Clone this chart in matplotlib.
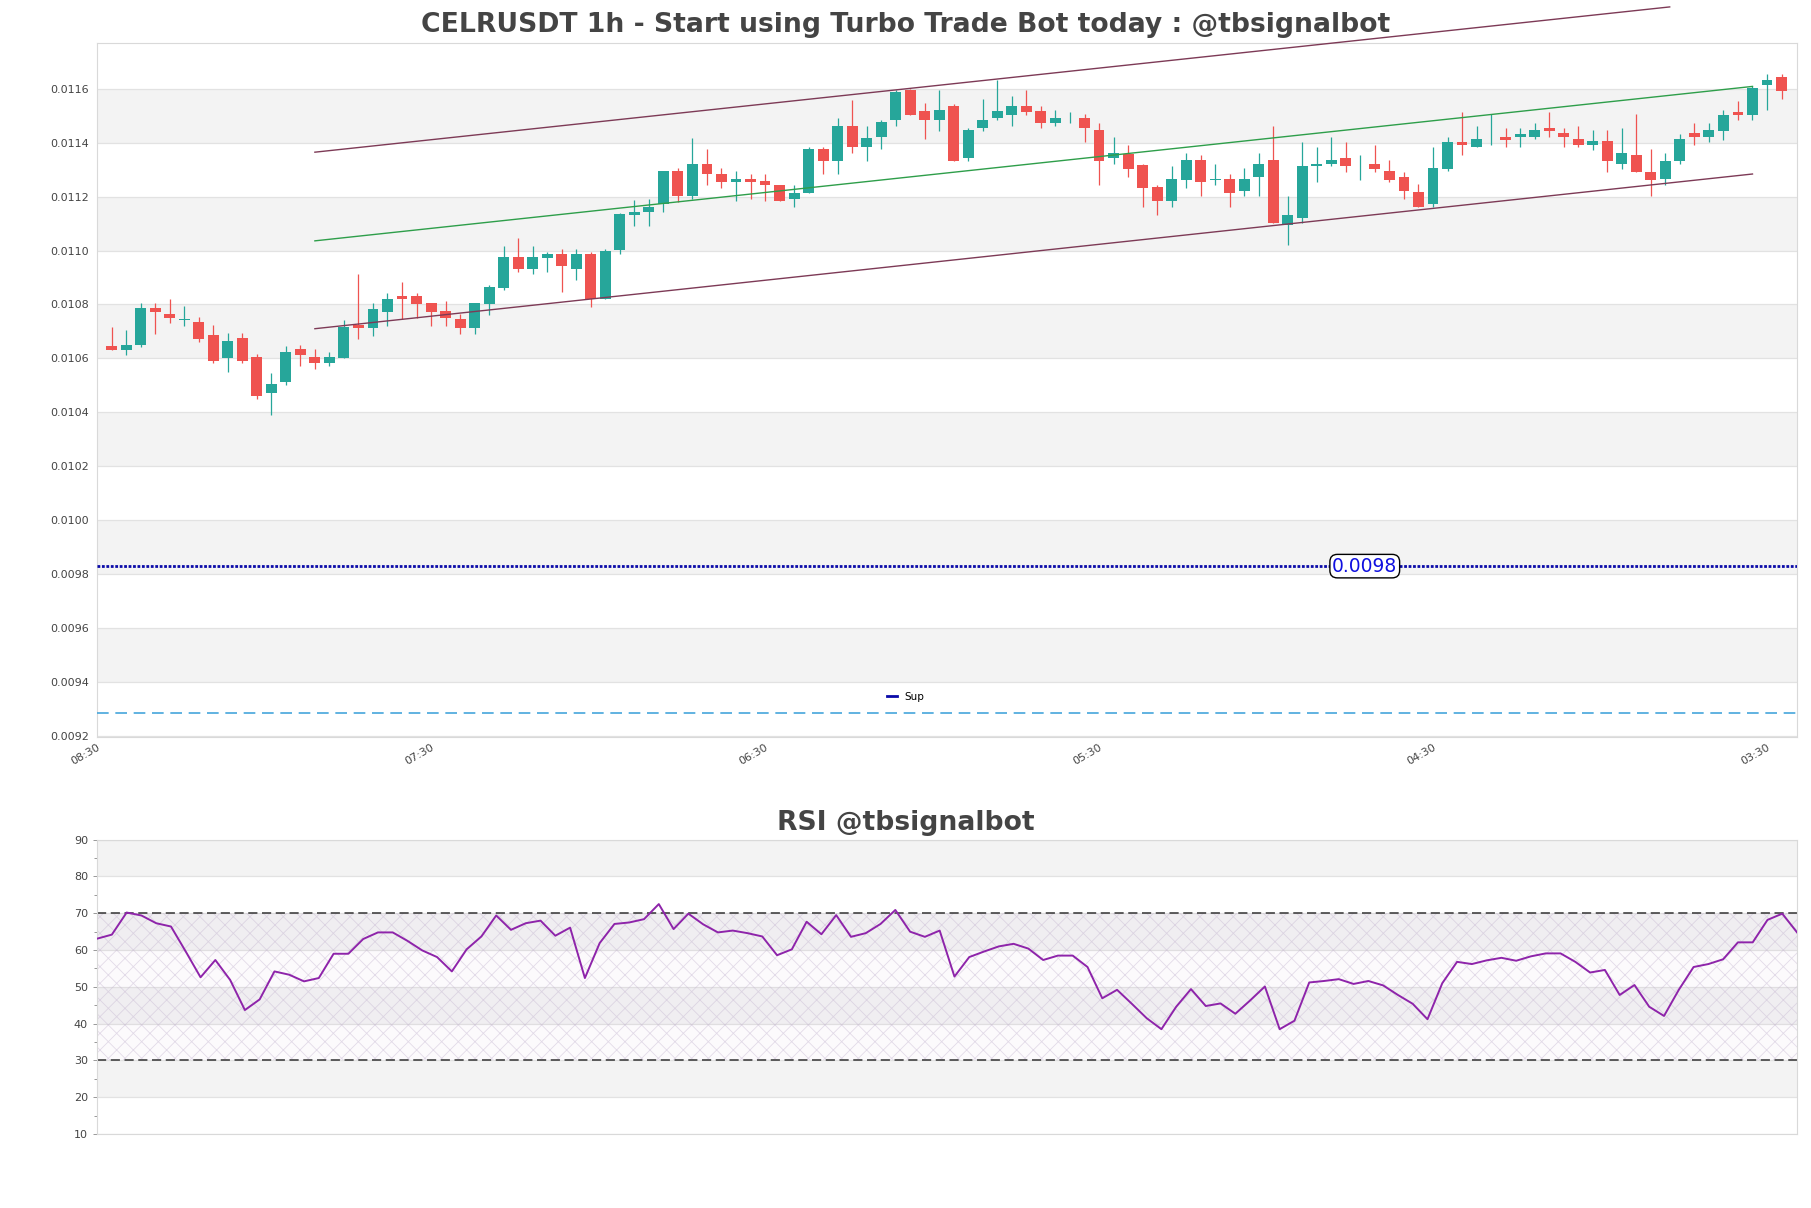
import matplotlib
matplotlib.use("Agg")
import matplotlib.pyplot as plt
from matplotlib.lines import Line2D
import numpy as np

# ---------------- data ----------------
opens = [0.010645, 0.010631, 0.010649, 0.010785, 0.010763, 0.010744, 0.010734, 0.010686, 0.010602, 0.010674,
         0.010604, 0.010473, 0.010513, 0.010634, 0.010604, 0.010583, 0.010602, 0.010722, 0.010713, 0.010772,
         0.010833, 0.010833, 0.010804, 0.010774, 0.010745, 0.010713, 0.010803, 0.010861, 0.010977, 0.010932,
         0.010974, 0.010988, 0.010932, 0.010988, 0.010821, 0.011001, 0.011132, 0.011143, 0.011174, 0.011294,
         0.011201, 0.011322, 0.011285, 0.011254, 0.011264, 0.011257, 0.011244, 0.011190, 0.011214, 0.011375,
         0.011332, 0.011464, 0.011384, 0.011421, 0.011483, 0.011595, 0.011516, 0.011484, 0.011535, 0.011343,
         0.011454, 0.011491, 0.011502, 0.011535, 0.011516, 0.011473, 0.011491, 0.011493, 0.011446, 0.011343,
         0.011357, 0.011316, 0.011235, 0.011184, 0.011262, 0.011335, 0.011262, 0.011264, 0.011221, 0.011273,
         0.011335, 0.011094, 0.011121, 0.011314, 0.011320, 0.011344, 0.011316, 0.011322, 0.011294, 0.011274,
         0.011216, 0.011172, 0.011304, 0.011404, 0.011385, 0.011420, 0.011422, 0.011421, 0.011421, 0.011456,
         0.011435, 0.011415, 0.011391, 0.011405, 0.011322, 0.011356, 0.011293, 0.011267, 0.011332, 0.011435,
         0.011421, 0.011443, 0.011515, 0.011504, 0.011615, 0.011644]
highs = [0.010715, 0.010704, 0.010804, 0.010804, 0.010822, 0.010793, 0.010752, 0.010722, 0.010693, 0.010693,
         0.010615, 0.010544, 0.010644, 0.010651, 0.010634, 0.010622, 0.010742, 0.010914, 0.010804, 0.010843,
         0.010884, 0.010843, 0.010804, 0.010814, 0.010763, 0.010804, 0.010874, 0.011016, 0.011047, 0.011016,
         0.010995, 0.011006, 0.011006, 0.010994, 0.011005, 0.011140, 0.011186, 0.011193, 0.011294, 0.011305,
         0.011416, 0.011375, 0.011305, 0.011294, 0.011285, 0.011285, 0.011244, 0.011244, 0.011385, 0.011385,
         0.011493, 0.011557, 0.011464, 0.011486, 0.011595, 0.011598, 0.011548, 0.011594, 0.011544, 0.011456,
         0.011564, 0.011632, 0.011575, 0.011595, 0.011535, 0.011523, 0.011515, 0.011505, 0.011474, 0.011422,
         0.011393, 0.011322, 0.011244, 0.011315, 0.011363, 0.011356, 0.011322, 0.011285, 0.011305, 0.011363,
         0.011464, 0.011202, 0.011404, 0.011385, 0.011422, 0.011404, 0.011356, 0.011393, 0.011335, 0.011293,
         0.011246, 0.011385, 0.011422, 0.011515, 0.011463, 0.011505, 0.011456, 0.011456, 0.011474, 0.011515,
         0.011456, 0.011464, 0.011446, 0.011446, 0.011456, 0.011505, 0.011375, 0.011363, 0.011433, 0.011474,
         0.011474, 0.011522, 0.011556, 0.011610, 0.011656, 0.011656]
lows = [0.010631, 0.010613, 0.010642, 0.010690, 0.010731, 0.010720, 0.010661, 0.010583, 0.010550, 0.010583,
        0.010450, 0.010391, 0.010502, 0.010572, 0.010562, 0.010572, 0.010602, 0.010672, 0.010683, 0.010720,
        0.010747, 0.010751, 0.010720, 0.010720, 0.010690, 0.010690, 0.010761, 0.010852, 0.010922, 0.010913,
        0.010922, 0.010845, 0.010892, 0.010792, 0.010821, 0.010986, 0.011091, 0.011091, 0.011143, 0.011181,
        0.011190, 0.011243, 0.011232, 0.011184, 0.011193, 0.011184, 0.011184, 0.011162, 0.011214, 0.011285,
        0.011285, 0.011363, 0.011332, 0.011375, 0.011462, 0.011502, 0.011415, 0.011443, 0.011332, 0.011332,
        0.011443, 0.011484, 0.011462, 0.011502, 0.011454, 0.011462, 0.011473, 0.011402, 0.011243, 0.011320,
        0.011273, 0.011162, 0.011132, 0.011162, 0.011232, 0.011202, 0.011243, 0.011162, 0.011202, 0.011202,
        0.011101, 0.011021, 0.011104, 0.011254, 0.011314, 0.011291, 0.011262, 0.011291, 0.011254, 0.011191,
        0.011163, 0.011162, 0.011295, 0.011354, 0.011385, 0.011391, 0.011385, 0.011384, 0.011415, 0.011421,
        0.011385, 0.011385, 0.011373, 0.011291, 0.011304, 0.011291, 0.011202, 0.011243, 0.011321, 0.011391,
        0.011404, 0.011412, 0.011484, 0.011484, 0.011520, 0.011562]
closes = [0.010631, 0.010651, 0.010785, 0.010772, 0.010750, 0.010746, 0.010672, 0.010591, 0.010663, 0.010591,
          0.010462, 0.010503, 0.010623, 0.010613, 0.010583, 0.010604, 0.010715, 0.010713, 0.010784, 0.010822,
          0.010820, 0.010801, 0.010772, 0.010750, 0.010713, 0.010804, 0.010863, 0.010977, 0.010932, 0.010977,
          0.010988, 0.010944, 0.010988, 0.010821, 0.011000, 0.011135, 0.011144, 0.011163, 0.011294, 0.011202,
          0.011322, 0.011284, 0.011254, 0.011264, 0.011254, 0.011243, 0.011184, 0.011215, 0.011375, 0.011332,
          0.011464, 0.011384, 0.011416, 0.011477, 0.011588, 0.011502, 0.011484, 0.011523, 0.011332, 0.011446,
          0.011486, 0.011516, 0.011535, 0.011514, 0.011473, 0.011493, 0.011493, 0.011454, 0.011332, 0.011363,
          0.011304, 0.011232, 0.011184, 0.011264, 0.011335, 0.011254, 0.011266, 0.011214, 0.011264, 0.011322,
          0.011101, 0.011133, 0.011315, 0.011322, 0.011335, 0.011314, 0.011319, 0.011302, 0.011262, 0.011221,
          0.011163, 0.011305, 0.011404, 0.011391, 0.011415, 0.011422, 0.011412, 0.011433, 0.011446, 0.011443,
          0.011421, 0.011391, 0.011405, 0.011332, 0.011363, 0.011291, 0.011262, 0.011333, 0.011415, 0.011421,
          0.011446, 0.011504, 0.011504, 0.011605, 0.011633, 0.011591]

rsi = [63.1, 64.2, 70.2, 69.4, 67.3, 66.4, 59.6, 52.6, 57.3, 51.9,
       43.7, 46.6, 54.2, 53.3, 51.5, 52.4, 59.0, 59.0, 63.0, 64.8,
       64.8, 62.5, 59.9, 58.1, 54.2, 60.2, 63.7, 69.4, 65.5, 67.3,
       68.0, 63.9, 66.1, 52.4, 61.9, 67.1, 67.5, 68.4, 72.5, 65.7,
       69.9, 67.0, 64.8, 65.3, 64.6, 63.7, 58.6, 60.2, 67.7, 64.3,
       69.5, 63.6, 64.6, 67.1, 70.9, 65.0, 63.6, 65.3, 52.8, 58.1,
       59.6, 61.0, 61.7, 60.4, 57.3, 58.5, 58.5, 55.4, 46.9, 49.2,
       45.4, 41.5, 38.5, 44.6, 49.4, 44.8, 45.5, 42.7, 46.3, 50.1,
       38.5, 40.8, 51.2, 51.6, 52.1, 50.8, 51.6, 50.4, 47.8, 45.4,
       41.2, 51.0, 56.8, 56.2, 57.2, 57.9, 57.1, 58.3, 59.1, 59.1,
       56.8, 53.9, 54.6, 47.8, 50.5, 44.6, 42.1, 49.2, 55.4, 56.2,
       57.5, 62.1, 62.1, 68.2, 69.9, 64.8]

tick_positions = [-1, 22, 45, 68, 91, 114]
tick_labels = ["08:30", "07:30", "06:30", "05:30", "04:30", "03:30"]

# channel lines: (x0, y0, x1, y1)
upper_line = (14.0, 0.011365, 107.3, 0.011904)
mid_line = (14.0, 0.011036, 113.0, 0.011609)
lower_line = (14.0, 0.010710, 113.0, 0.011284)

sup_level = 0.009829
sup_label = "0.0098"
low_level = 0.0092856

title_main = "CELRUSDT 1h - Start using Turbo Trade Bot today : @tbsignalbot"
title_rsi = "RSI @tbsignalbot"

# ---------------- figure ----------------
plt.rcParams["hatch.linewidth"] = 0.6
fig = plt.figure(figsize=(18.11, 12.08), dpi=100)
ax = fig.add_axes([0.0536, 0.3899, 0.9387, 0.5747])
ax2 = fig.add_axes([0.0536, 0.0612, 0.9387, 0.2437])

GREEN = "#26a69a"
RED = "#ef5350"
BAND = "#f3f3f3"
GRID = "#e2e2e2"
SPINE = "#d9d9d9"
TXT = "#444444"

n = len(opens)
x = np.arange(n)

# bands main
yticks = np.round(np.arange(0.0092, 0.01161, 0.0002), 5)
for k, yb in enumerate(yticks[:-1]):
    if k % 2 == 1:
        ax.axhspan(yb, yb + 0.0002, color=BAND, zorder=0, lw=0)
for yv in yticks:
    ax.axhline(yv, color=GRID, lw=0.9, zorder=0.5)

o = np.array(opens); c = np.array(closes); h = np.array(highs); l = np.array(lows)
cols = np.where(c >= o, GREEN, RED)
ax.vlines(x, l, h, colors=cols, lw=0.9, zorder=2)
body_bottom = np.minimum(o, c)
body_h = np.maximum(np.abs(c - o), 0.0000025)
ax.bar(x, body_h, bottom=body_bottom, width=0.75, color=cols, zorder=3, linewidth=0)

# channel lines
ax.plot([upper_line[0], upper_line[2]], [upper_line[1], upper_line[3]], color="#7d3a56", lw=1.0, zorder=4, clip_on=False)
ax.plot([mid_line[0], mid_line[2]], [mid_line[1], mid_line[3]], color="#2e9e4a", lw=1.0, zorder=4)
ax.plot([lower_line[0], lower_line[2]], [lower_line[1], lower_line[3]], color="#7d3a56", lw=1.0, zorder=4)

# support
ax.axhline(sup_level, color="#0a0aa8", lw=2.0, ls=(0, (1, 0.6)), zorder=4)
ax.text(86.3, sup_level, sup_label, color="#1010e0", fontsize=13.5, ha="center", va="center", zorder=6,
        bbox=dict(boxstyle="round,pad=0.12,rounding_size=0.4", fc="white", ec="black", lw=1.0))
ax.axhline(low_level, color="#46a6dc", lw=1.2, ls=(0, (7, 4)), zorder=4)

ax.set_xlim(-1, 116.07)
ax.set_ylim(0.009195, 0.011771)
ax.set_yticks(yticks)
ax.set_yticklabels([f"{v:.4f}" for v in yticks])
ax.set_xticks(tick_positions)
ax.set_xticklabels(tick_labels, rotation=30, ha="right", rotation_mode="anchor")
ax.tick_params(axis="both", labelsize=8, colors=TXT, length=0, pad=6)
ax.tick_params(axis="x", pad=4)
for lab in ax.get_xticklabels():
    lab.set_x(lab.get_position()[0])
for s in ax.spines.values():
    s.set_color(SPINE)

fig.legend(handles=[Line2D([0], [0], color="#0a0aa8", lw=2.0)], labels=["Sup"], loc="center",
           bbox_to_anchor=(0.5, 0.4234), frameon=False, fontsize=7.5, handlelength=1.0, handletextpad=0.7)

fig.text(0.5, 0.979, title_main, ha="center", va="center", fontsize=19.2, fontweight="bold", color=TXT)

# ---------------- RSI ----------------
xr = np.arange(len(rsi))
for lo_, hi_, band in [(80, 90, True), (70, 80, False), (60, 70, True), (50, 60, False),
                       (40, 50, True), (30, 40, False), (20, 30, True), (10, 20, False)]:
    if band:
        ax2.axhspan(lo_, hi_, color=BAND, zorder=0, lw=0)
for yv in range(10, 91, 10):
    ax2.axhline(yv, color=GRID, lw=0.9, zorder=0.5)
ax2.fill_between(xr, 30, 70, facecolor="#8e3aa8", alpha=0.025, lw=0, zorder=0.6)
ax2.fill_between(xr, 30, 70, facecolor="none", edgecolor="#c4b4d0", alpha=0.45, hatch="xx", lw=0, zorder=0.7)
ax2.axhline(70, color="#333333", lw=1.1, ls=(0, (6, 3)), zorder=2)
ax2.axhline(30, color="#333333", lw=1.1, ls=(0, (6, 3)), zorder=2)
ax2.plot(xr, rsi, color="#8e24aa", lw=1.4, zorder=3)
ax2.set_xlim(0, len(rsi) - 1)
ax2.set_ylim(10, 90)
ax2.set_yticks(range(10, 91, 10))
ax2.set_yticks(range(15, 90, 10), minor=True)
ax2.set_xticks([])
ax2.tick_params(axis="y", which="major", labelsize=8, colors=TXT, length=3, width=0.6, color="#888888")
ax2.tick_params(axis="y", which="minor", length=2, width=0.6, color="#888888")
for s in ax2.spines.values():
    s.set_color(SPINE)

fig.text(0.5, 0.319, title_rsi, ha="center", va="center", fontsize=19.2, fontweight="bold", color=TXT)

fig.savefig("out.png", dpi=100)
